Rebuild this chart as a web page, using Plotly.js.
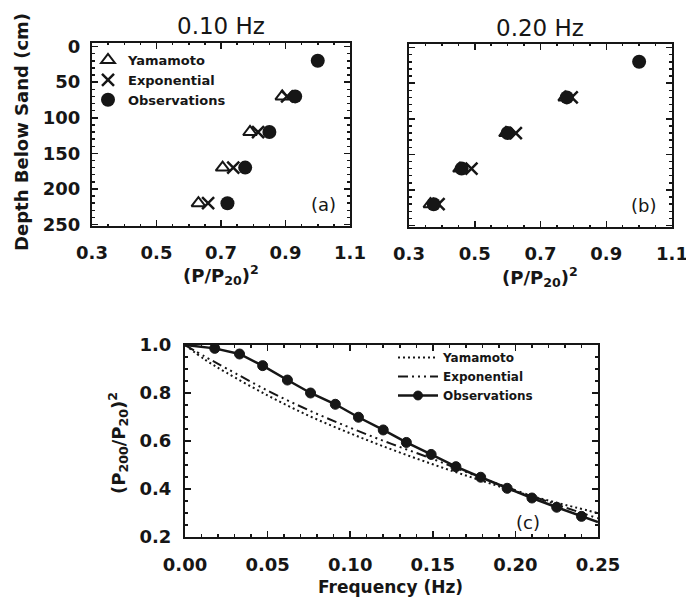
<!DOCTYPE html>
<html>
<head>
<meta charset="utf-8">
<script src="https://cdn.plot.ly/plotly-3.0.1.min.js"></script>
<style>html,body{margin:0;padding:0;background:#fff;}#plot{width:686px;height:600px;}</style>
</head>
<body>
<div id="plot"></div>
<script>
// ---------- DATA ----------
// Panels (a) and (b): depth below sand (cm)
const depths = [20, 70, 120, 170, 220];
// (a) 0.10 Hz  (models not drawn at the 20 cm reference depth)
const yamA = [null, 0.89, 0.79, 0.705, 0.63];
const expA = [null, 0.905, 0.815, 0.738, 0.66];
const obsA = [1.0, 0.93, 0.85, 0.775, 0.72];
// (b) 0.20 Hz
const yamB = [null, 0.775, 0.595, 0.455, 0.365];
const expB = [null, 0.795, 0.625, 0.49, 0.39];
const obsB = [1.0, 0.78, 0.60, 0.46, 0.375];
// (c) ratio vs frequency
const freqModel = [0, 0.0125, 0.025, 0.05, 0.075, 0.1, 0.125, 0.15, 0.175, 0.2, 0.225, 0.25];
const yamC = [1.0, 0.937, 0.885, 0.79, 0.705, 0.632, 0.565, 0.503, 0.445, 0.39, 0.343, 0.30];
const expC = [1.0, 0.95, 0.903, 0.81, 0.728, 0.655, 0.588, 0.525, 0.458, 0.395, 0.335, 0.278];
const freqObs = [0, 0.018, 0.033, 0.047, 0.062, 0.076, 0.091, 0.105, 0.120, 0.134, 0.149, 0.164, 0.179, 0.195, 0.210, 0.225, 0.240, 0.25];
const obsC = [1.0, 0.986, 0.9625, 0.914, 0.854, 0.80, 0.753, 0.699, 0.646, 0.594, 0.544, 0.493, 0.449, 0.403, 0.3625, 0.324, 0.286, 0.262];
const seriesNames = ['Yamamoto', 'Exponential', 'Observations'];
const depthTicks = [0, 50, 100, 150, 200, 250];
const ratioTicks = [0.3, 0.5, 0.7, 0.9, 1.1];
const ratioTickText = ['0.3', '0.5', '0.7', '0.9', '1.1'];

// ---------- STYLE ----------
const INK = '#161616';
const W = 686, H = 600;
const px = x => x / W;
const py = y => 1 - y / H;
const BOLD = {family: 'DejaVu Sans', size: 18, color: INK, weight: 'bold'};

const obsSizes = freqObs.map((f, i) => (i === 0 || i === freqObs.length - 1) ? 0 : 10);

const triMarker = {symbol: 'triangle-up-open', size: 12, color: INK, line: {width: 2, color: INK}};
const xMarker = {symbol: 'x-thin-open', size: 12, color: INK, line: {width: 2.5, color: INK}};
const dotMarker = {symbol: 'circle', size: 14, color: INK, line: {width: 0}};

const traces = [
  // panel (a)
  {x: yamA, y: depths, xaxis: 'x', yaxis: 'y', mode: 'markers', name: seriesNames[0], legend: 'legend', marker: triMarker},
  {x: expA, y: depths, xaxis: 'x', yaxis: 'y', mode: 'markers', name: seriesNames[1], legend: 'legend', marker: xMarker},
  {x: obsA, y: depths, xaxis: 'x', yaxis: 'y', mode: 'markers', name: seriesNames[2], legend: 'legend', marker: dotMarker},
  // panel (b)
  {x: yamB, y: depths, xaxis: 'x2', yaxis: 'y2', mode: 'markers', showlegend: false, marker: triMarker},
  {x: expB, y: depths, xaxis: 'x2', yaxis: 'y2', mode: 'markers', showlegend: false, marker: xMarker},
  {x: obsB, y: depths, xaxis: 'x2', yaxis: 'y2', mode: 'markers', showlegend: false, marker: dotMarker},
  // panel (c)
  {x: freqModel, y: yamC, xaxis: 'x3', yaxis: 'y3', mode: 'lines', name: seriesNames[0], legend: 'legend2',
   line: {color: INK, width: 2, dash: '2px,3px', shape: 'spline'}},
  {x: freqModel, y: expC, xaxis: 'x3', yaxis: 'y3', mode: 'lines', name: seriesNames[1], legend: 'legend2',
   line: {color: INK, width: 2, dash: '10px,4px,2px,4px,2px,4px,2px,4px', shape: 'spline'}},
  {x: freqObs, y: obsC, xaxis: 'x3', yaxis: 'y3', mode: 'lines+markers', name: seriesNames[2], legend: 'legend2',
   line: {color: INK, width: 2.5}, marker: {size: obsSizes, color: INK, opacity: 1, line: {width: 1, color: INK}}}
];

function axisBase(extra) {
  return Object.assign({
    showline: true, linecolor: INK, linewidth: 2, mirror: 'allticks',
    ticks: 'inside', ticklen: 6, tickwidth: 1.5, tickcolor: INK,
    showgrid: false, zeroline: false, tickfont: BOLD, ticklabelstandoff: 6,
    ticklabeloverflow: 'allow'
  }, extra);
}

const layout = {
  width: W, height: H,
  margin: {l: 0, r: 0, t: 0, b: 0},
  paper_bgcolor: '#fff', plot_bgcolor: '#fff',
  font: {family: 'DejaVu Sans', color: INK},
  xaxis: axisBase({domain: [px(92), px(350)], range: [0.3, 1.1], tickvals: ratioTicks,
    ticktext: ratioTickText, anchor: 'y', ticklabelstandoff: 9,
    minor: {ticks: 'inside', dtick: 0.05, ticklen: 2, tickcolor: INK}}),
  yaxis: axisBase({domain: [py(226), py(43)], range: [252, -5], tickvals: depthTicks, anchor: 'x',
    minor: {ticks: 'inside', dtick: 10, ticklen: 3, tickcolor: INK}}),
  xaxis2: axisBase({domain: [px(409), px(672)], range: [0.3, 1.1], tickvals: ratioTicks,
    ticktext: ratioTickText, anchor: 'y2', ticklabelstandoff: 9,
    minor: {ticks: 'inside', dtick: 0.05, ticklen: 2, tickcolor: INK}}),
  yaxis2: axisBase({domain: [py(227), py(44)], range: [252, -5], tickvals: depthTicks, anchor: 'x2', showticklabels: false,
    minor: {ticks: 'inside', dtick: 10, ticklen: 3, tickcolor: INK}}),
  xaxis3: axisBase({domain: [px(185), px(598)], range: [0, 0.25], dtick: 0.05, tickformat: '.2f', anchor: 'y3',
    ticklabelstandoff: 10, minor: {ticks: 'inside', dtick: 0.01, ticklen: 3, tickcolor: INK}}),
  yaxis3: axisBase({domain: [py(537), py(345)], range: [0.2, 1.0], dtick: 0.2, tickformat: '.1f', anchor: 'x3',
    ticklabelstandoff: 8, minor: {ticks: 'inside', dtick: 0.05, ticklen: 3, tickcolor: INK}}),
  legend: {x: px(88), y: py(45), xanchor: 'left', yanchor: 'top', bgcolor: 'rgba(0,0,0,0)',
    font: {family: 'DejaVu Sans', size: 13, color: INK, weight: 'bold'}, itemwidth: 30, tracegroupgap: 0},
  legend2: {x: px(393), y: py(343), xanchor: 'left', yanchor: 'top', bgcolor: 'rgba(0,0,0,0)',
    font: {family: 'DejaVu Sans', size: 12, color: INK, weight: 'bold'}, itemwidth: 40, tracegroupgap: 0},
  annotations: [
    {text: '0.10 Hz', x: px(221), y: py(26), font: {family: 'DejaVu Sans', size: 23, color: INK}},
    {text: '0.20 Hz', x: px(540), y: py(28), font: {family: 'DejaVu Sans', size: 23, color: INK}},
    {text: 'Depth Below Sand (cm)', x: px(22), y: py(132), textangle: -90,
     font: {family: 'DejaVu Sans', size: 18, color: INK, weight: 'bold'}},
    {text: '(P/P<sub>20</sub>)<sup>2</sup>', x: px(221), y: py(275), font: BOLD},
    {text: '(P/P<sub>20</sub>)<sup>2</sup>', x: px(540), y: py(277), font: BOLD},
    {text: '(a)', x: px(323), y: py(204), font: {family: 'DejaVu Sans', size: 18, color: INK}},
    {text: '(b)', x: px(643), y: py(206), font: {family: 'DejaVu Sans', size: 18, color: INK}},
    {text: '(c)', x: px(528), y: py(522), font: {family: 'DejaVu Sans', size: 18, color: INK}},
    {text: '(P<sub>200</sub>/P<sub>20</sub>)<sup>2</sup>', x: px(118), y: py(443), textangle: -90, font: BOLD},
    {text: 'Frequency (Hz)', x: px(390), y: py(587), font: {family: 'DejaVu Sans', size: 17, color: INK, weight: 'bold'}}
  ].map(a => Object.assign({xref: 'paper', yref: 'paper', showarrow: false, xanchor: 'center', yanchor: 'middle'}, a))
};

Plotly.newPlot('plot', traces, layout, {staticPlot: true, displayModeBar: false});
</script>
</body>
</html>
